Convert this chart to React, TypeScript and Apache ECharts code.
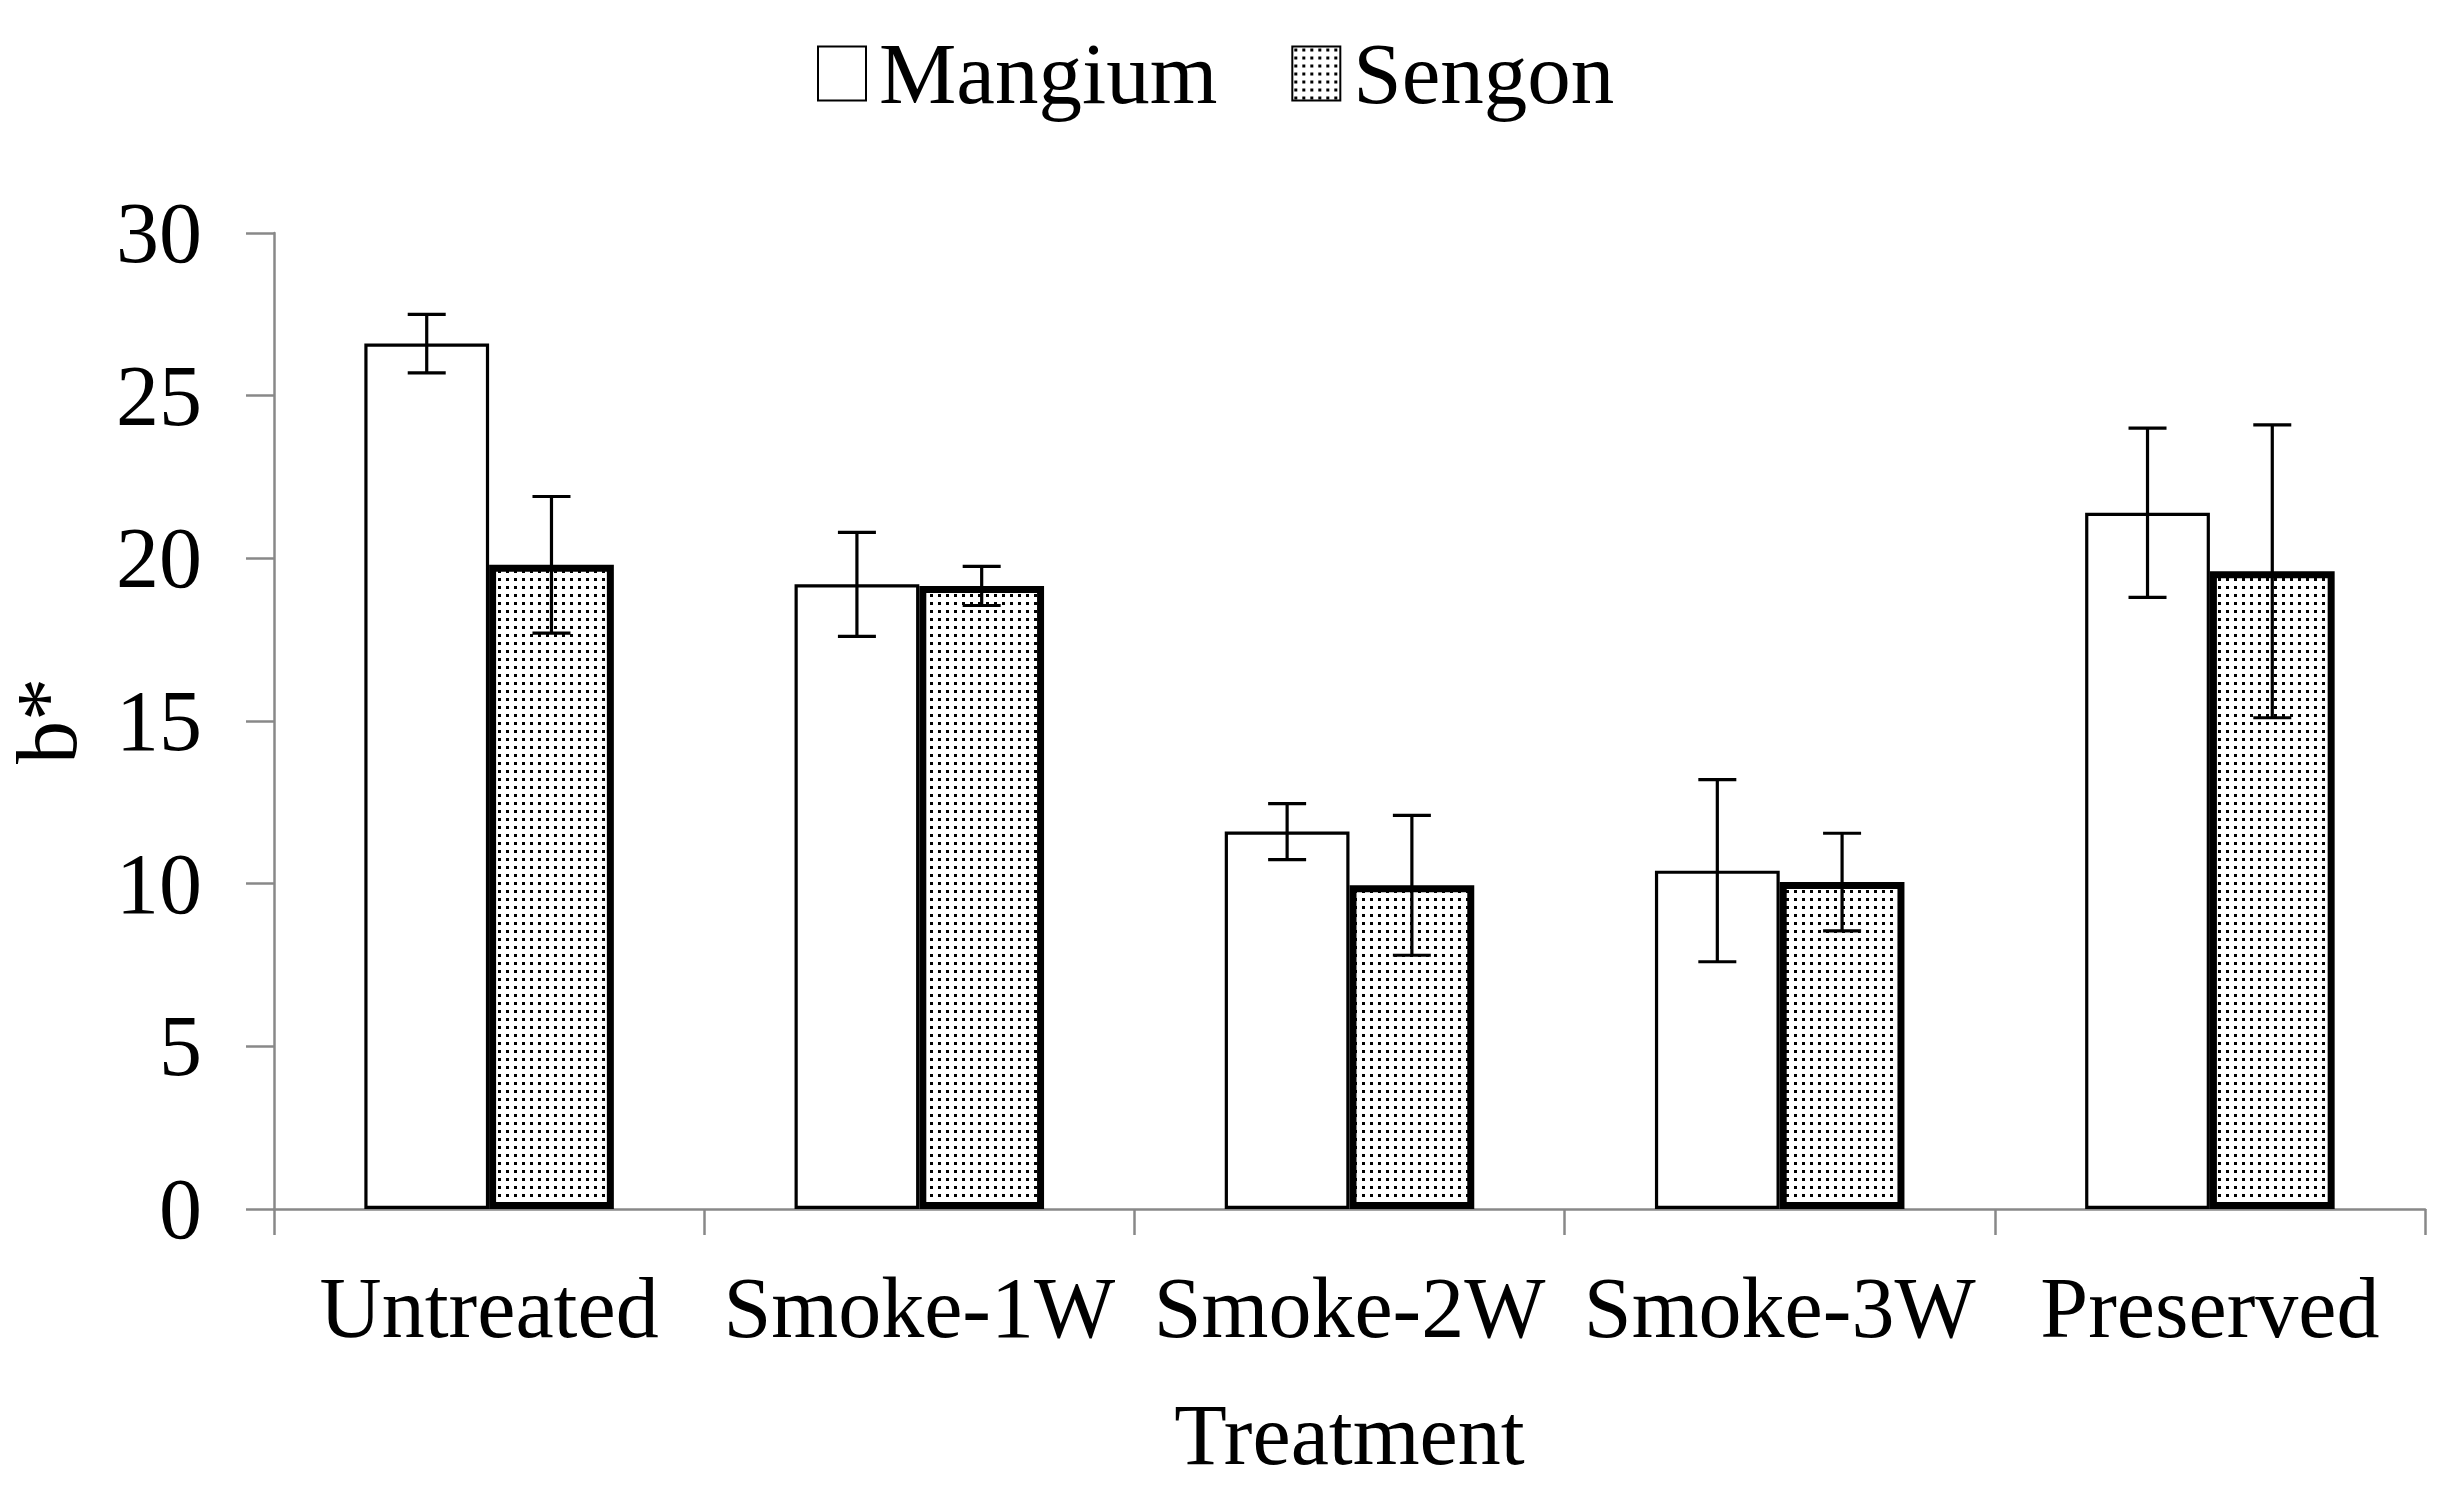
import React, { useEffect, useRef } from "react";
import * as echarts from "echarts";

const categories = ["Untreated", "Smoke-1W", "Smoke-2W", "Smoke-3W", "Preserved"];
const mangiumMean = [26.6, 19.2, 11.6, 10.4, 21.4];
const mangiumErr = [0.9, 1.6, 0.86, 2.8, 2.6];
const sengonMean = [19.8, 19.15, 9.95, 10.05, 19.6];
const sengonErr = [2.1, 0.6, 2.15, 1.5, 4.5];
const yMin = 0;
const yMax = 30;
const yInterval = 5;

const FONT = "Liberation Serif";
const CAT_GAP = 0.42;

function makeDots(): HTMLCanvasElement {
  const c = document.createElement("canvas");
  c.width = 8;
  c.height = 8;
  const ctx = c.getContext("2d")!;
  ctx.fillStyle = "#ffffff";
  ctx.fillRect(0, 0, 8, 8);
  ctx.fillStyle = "#000000";
  ctx.fillRect(2, 2, 3, 3);
  return c;
}

function errRender(offset: number) {
  return (params: any, api: any) => {
    const idx = api.value(0);
    const lo = api.coord([idx, api.value(1)]);
    const hi = api.coord([idx, api.value(2)]);
    const band = api.size([1, 0])[0];
    const bw = (band * (1 - CAT_GAP)) / 2;
    const x = lo[0] + (offset * bw) / 2;
    const cap = 19;
    const st = { stroke: "#000", lineWidth: 3.2 };
    return {
      type: "group",
      children: [
        { type: "line", shape: { x1: x, y1: lo[1], x2: x, y2: hi[1] }, style: st },
        { type: "line", shape: { x1: x - cap, y1: lo[1], x2: x + cap, y2: lo[1] }, style: st },
        { type: "line", shape: { x1: x - cap, y1: hi[1], x2: x + cap, y2: hi[1] }, style: st },
      ],
    };
  };
}

export default function App() {
  const ref = useRef<HTMLDivElement>(null);
  useEffect(() => {
    document.body.style.margin = "0";
    const chart = echarts.init(ref.current!, null, { renderer: "svg" });
    const dots = makeDots();
    const mErrData = categories.map((_, i) => [i, mangiumMean[i] - mangiumErr[i], mangiumMean[i] + mangiumErr[i]]);
    const sErrData = categories.map((_, i) => [i, sengonMean[i] - sengonErr[i], sengonMean[i] + sengonErr[i]]);
    chart.setOption({
      animation: false,
      backgroundColor: "#ffffff",
      textStyle: { fontFamily: FONT, color: "#000" },
      legend: {
        data: ["Mangium", "Sengon"],
        top: 25,
        left: 812,
        itemWidth: 48,
        itemHeight: 54,
        itemGap: 74,
        icon: "rect",
        textStyle: { fontFamily: FONT, fontSize: 87, color: "#000", padding: [0, 0, 0, 8] },
      },
      grid: { left: 274, right: 21, top: 233, bottom: 280, containLabel: false, outerBoundsMode: "none" },
      xAxis: {
        type: "category",
        data: categories,
        name: "Treatment",
        nameLocation: "middle",
        nameGap: 183,
        nameTextStyle: { fontFamily: FONT, fontSize: 86, color: "#000" },
        axisLine: { show: true, lineStyle: { color: "#888", width: 2.5 } },
        axisTick: { show: true, length: 26, lineStyle: { color: "#888", width: 2.5 } },
        axisLabel: { fontFamily: FONT, fontSize: 86, color: "#000", margin: 56, interval: 0 },
        splitLine: { show: false },
      },
      yAxis: {
        type: "value",
        min: yMin,
        max: yMax,
        interval: yInterval,
        name: "b*",
        nameLocation: "middle",
        nameGap: 184,
        nameRotate: 90,
        nameTextStyle: { fontFamily: FONT, fontSize: 86, color: "#000" },
        axisLine: { show: true, lineStyle: { color: "#888", width: 2.5 } },
        axisTick: { show: true, length: 28, lineStyle: { color: "#888", width: 2.5 } },
        axisLabel: { fontFamily: FONT, fontSize: 86, color: "#000", margin: 72 },
        splitLine: { show: false },
      },
      series: [
        {
          name: "Mangium",
          type: "bar",
          data: mangiumMean,
          barGap: "0%",
          barCategoryGap: CAT_GAP * 100 + "%",
          itemStyle: { color: "#ffffff", borderColor: "#000", borderWidth: 3.2 },
          z: 2,
        },
        {
          name: "Sengon",
          type: "bar",
          data: sengonMean,
          barGap: "0%",
          barCategoryGap: CAT_GAP * 100 + "%",
          itemStyle: { color: { image: dots, repeat: "repeat" }, borderColor: "#000", borderWidth: 7 },
          z: 3,
        },
        {
          name: "MangiumErr",
          type: "custom",
          data: mErrData,
          renderItem: errRender(-1),
          encode: { x: 0, y: [1, 2] },
          z: 10,
          silent: true,
        },
        {
          name: "SengonErr",
          type: "custom",
          data: sErrData,
          renderItem: errRender(1),
          encode: { x: 0, y: [1, 2] },
          z: 10,
          silent: true,
        },
      ],
    });
    return () => chart.dispose();
  }, []);
  return <div ref={ref} style={{ position: "absolute", left: 0, top: 0, width: 2446, height: 1489 }} />;
}
